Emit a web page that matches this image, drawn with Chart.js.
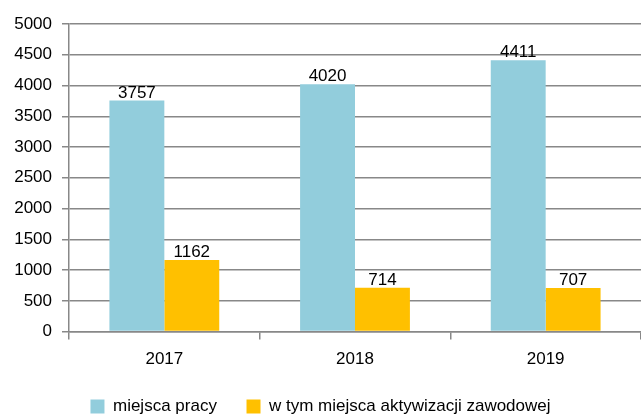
<!DOCTYPE html>
<html><head><meta charset="utf-8">
<script src="https://cdn.jsdelivr.net/npm/chart.js@4/dist/chart.umd.min.js"></script>
<style>html,body{margin:0;padding:0;background:#fff}#wrap{width:641px;height:417px}</style>
</head><body><div id="wrap"><canvas id="c" width="641" height="417"></canvas></div>
<script>
const categories = ['2017', '2018', '2019'];
const seriesNames = ['miejsca pracy', 'w tym miejsca aktywizacji zawodowej'];
const miejscaPracy = [3757, 4020, 4411];
const aktywizacja = [1162, 714, 707];
const yTicks = [0, 500, 1000, 1500, 2000, 2500, 3000, 3500, 4000, 4500, 5000];

const FONT = "'Liberation Sans', Arial, sans-serif";
const FS = 17;
const labelPlugin = {
  id: 'vals',
  afterDatasetsDraw(chart) {
    const ctx = chart.ctx;
    ctx.save();
    ctx.font = FS + 'px ' + FONT;
    ctx.fillStyle = '#000';
    ctx.textAlign = 'center';
    ctx.textBaseline = 'bottom';
    chart.data.datasets.forEach((ds, i) => {
      chart.getDatasetMeta(i).data.forEach((bar, j) => {
        ctx.fillText(String(ds.data[j]), bar.x, bar.y + 1);
      });
    });
    ctx.restore();
  }
};

new Chart(document.getElementById('c'), {
  type: 'bar',
  data: {
    labels: categories,
    datasets: [
      { label: seriesNames[0], data: miejscaPracy, backgroundColor: '#92CDDC' },
      { label: seriesNames[1], data: aktywizacja, backgroundColor: '#FFC000' }
    ]
  },
  options: {
    responsive: false,
    animation: false,
    devicePixelRatio: 1,
    layout: { padding: { top: 24, right: 0, left: 0, bottom: -8 } },
    datasets: { bar: { categoryPercentage: 0.576, barPercentage: 1 } },
    plugins: {
      tooltip: { enabled: false },
      legend: {
        position: 'bottom',
        labels: {
          font: { family: FONT, size: FS },
          color: '#000',
          boxWidth: 14, boxHeight: 14,
          padding: 6,
          generateLabels(chart) {
            const items = Chart.defaults.plugins.legend.labels.generateLabels(chart);
            items.forEach((it, i) => {
              if (i < items.length - 1) it.text = it.text + '\u00A0\u00A0\u00A0\u00A0\u00A0';
            });
            return items;
          }
        }
      }
    },
    scales: {
      x: {
        afterFit(s) { s.height += 12; },
        grid: { drawOnChartArea: false, drawTicks: true, tickLength: 8, color: '#888', lineWidth: 1.5, offset: true },
        border: { color: '#888', width: 1.5 },
        ticks: { font: { family: FONT, size: FS }, color: '#000', padding: 10 }
      },
      y: {
        min: 0, max: 5000,
        afterBuildTicks(s) { s.ticks = yTicks.map(v => ({ value: v })); },
        afterFit(s) { s.width = 69; },
        grid: { color: '#888', lineWidth: 1.5, tickLength: 7 },
        border: { color: '#888', width: 1.5 },
        ticks: { font: { family: FONT, size: FS }, color: '#000', padding: 10, callback: v => String(v) }
      }
    }
  },
  plugins: [labelPlugin]
});
</script></body></html>
